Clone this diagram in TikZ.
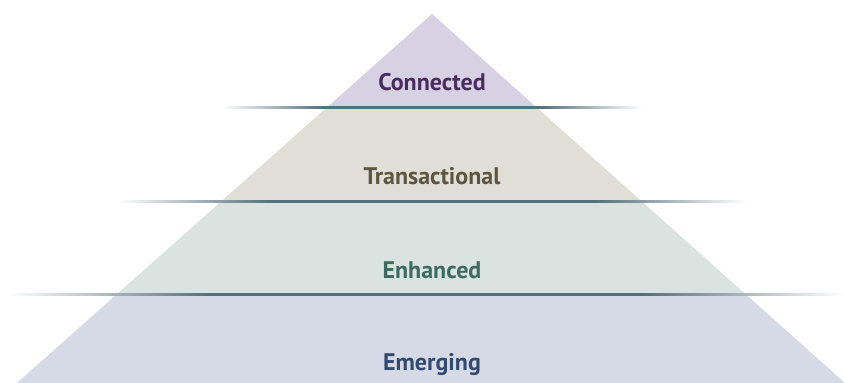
\documentclass[tikz,border=0pt]{standalone}
\usepackage{fontspec}
\setmainfont{PT Sans}
\definecolor{linecol}{HTML}{55707E}
\definecolor{connfill}{HTML}{D6D2E4}
\definecolor{tranfill}{HTML}{E1DED8}
\definecolor{enhfill}{HTML}{DAE3DF}
\definecolor{emerfill}{HTML}{D6DAE7}
\definecolor{conntext}{HTML}{4B2C5E}
\definecolor{trantext}{HTML}{5C5540}
\definecolor{enhtext}{HTML}{3C6B60}
\definecolor{emertext}{HTML}{334A6E}
\pgfdeclarehorizontalshading{dividerfade}{100bp}{color(0bp)=(white); color(25bp)=(white); color(37bp)=(linecol); color(63bp)=(linecol); color(75bp)=(white); color(100bp)=(white)}

\begin{document}
\begin{tikzpicture}[x=1pt, y=1pt,
    level/.style = {font = \bfseries\fontsize{24}{26}\selectfont, inner sep = 0pt},
    divider/.style = {shading = dividerfade}]
  \useasboundingbox (0,0) rectangle (844,383);
  \coordinate (apex) at (432,369);
  \coordinate (bl) at (17,0);
  \coordinate (br) at (845,0);
  \begin{scope}
    \clip (apex) -- (bl) -- (br) -- cycle;
    \fill[emerfill] (0,0) rectangle (844,88);
    \fill[enhfill]  (0,88) rectangle (844,181);
    \fill[tranfill] (0,181) rectangle (844,275);
    \fill[connfill] (0,275) rectangle (844,383);
  \end{scope}
  % dividers, faded at both ends
  \foreach \y/\xa/\xb in {275/222/642, 181/117/747, 88/8/844}
    \shade[divider] (\xa,\y-1) rectangle (\xb,\y+1);
  \node[level, text = conntext] (connected)     at (432,301) {Connected};
  \node[level, text = trantext] (transactional) at (432,207) {Transactional};
  \node[level, text = enhtext]  (enhanced)      at (432,113) {Enhanced};
  \node[level, text = emertext] (emerging)      at (432,18)  {Emerging};
\end{tikzpicture}
\end{document}
